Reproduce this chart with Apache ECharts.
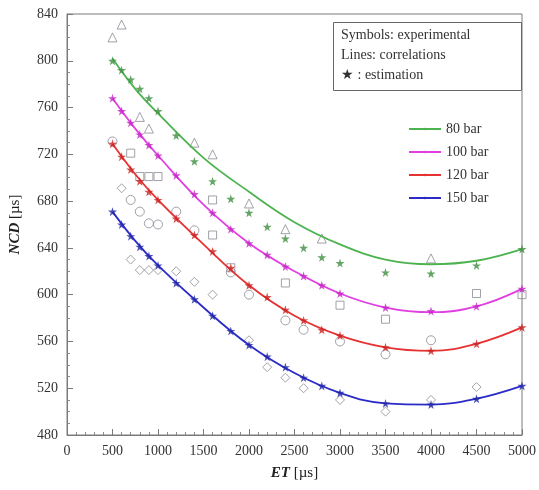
<!DOCTYPE html>
<html>
<head>
<meta charset="utf-8">
<script src="https://cdn.jsdelivr.net/npm/echarts@6/dist/echarts.min.js"></script>
<style>html,body{margin:0;padding:0;background:#fff;}#c{width:539px;height:490px;}</style>
</head>
<body>
<div id="c"></div>
<script>
// ---- data ----
var pressures = ['80 bar', '100 bar', '120 bar', '150 bar'];
var etLine = [500, 750, 1000, 1500, 2000, 2500, 3000, 3500, 4000, 4500, 5000];
var line80  = [802, 776, 755, 717, 688, 662, 643, 630, 626, 629, 639];
var line100 = [768, 742, 719, 677, 644, 620, 601, 589, 585, 590, 605];
var line120 = [729, 703, 681, 643, 608, 582, 565, 555, 552, 558, 572];
var line150 = [671, 646, 625, 589, 557, 533, 516, 507, 506, 511, 522];

var etEst = [500, 600, 700, 800, 900, 1000, 1200, 1400, 1600, 1800, 2000, 2200, 2400, 2600, 2800, 3000, 3500, 4000, 4500, 5000];
var est80  = [800, 792, 784, 776, 768, 757, 736, 714, 697, 682, 670, 658, 648, 640, 632, 627, 619, 618, 625, 639];
var est100 = [768, 757, 747, 737, 728, 719, 702, 686, 670, 656, 644, 634, 624, 616, 608, 601, 589, 586, 590, 605];
var est120 = [729, 718, 707, 697, 688, 681, 665, 651, 637, 623, 608, 598, 587, 578, 570, 565, 555, 552, 558, 572];
var est150 = [671, 660, 650, 641, 633, 625, 610, 596, 582, 569, 557, 547, 538, 529, 522, 516, 507, 506, 511, 522];

var exp80  = [[500,820],[600,831],[800,752],[900,742],[1400,730],[1600,720],[2000,678],[2400,656],[2800,648],[4000,631]];
var exp100 = [[700,721],[800,701],[900,701],[1000,701],[1600,681],[1600,651],[1800,623],[2400,610],[3000,591],[3500,579],[4500,601],[5000,600]];
var exp120 = [[500,731],[700,681],[800,671],[900,661],[1000,660],[1200,671],[1400,655],[1800,619],[2000,600],[2400,578],[2600,570],[3000,560],[3500,549],[4000,561]];
var exp150 = [[600,691],[700,630],[800,621],[900,621],[1000,621],[1200,620],[1400,611],[1600,600],[2000,561],[2200,538],[2400,529],[2600,520],[3000,510],[3500,500],[4000,510],[4500,521]];

var xTicks = [0, 500, 1000, 1500, 2000, 2500, 3000, 3500, 4000, 4500, 5000];
var yTicks = [480, 520, 560, 600, 640, 680, 720, 760, 800, 840];

// ---- styling ----
var lineColors = ['#4db34f', '#e23fe2', '#e63232', '#2b2bc8'];
var estColors  = ['#3d8f3f', '#c424c4', '#cc2020', '#1f24a8'];
var expShapes  = ['triangle', 'rect', 'circle', 'diamond'];
var expColor   = '#8a8a94';
var starPath = 'path://M50,0 L61,35 L98,35 L68,57 L79,91 L50,70 L21,91 L32,57 L2,35 L39,35 Z';
var serif = '"Liberation Serif", "DejaVu Serif", serif';

function zip(xs, ys) { return xs.map(function (x, i) { return [x, ys[i]]; }); }
var lines = [line80, line100, line120, line150];
var ests = [est80, est100, est120, est150];
var exps = [exp80, exp100, exp120, exp150];

var series = [];
for (var i = 0; i < 4; i++) {
  series.push({
    name: pressures[i], type: 'line', smooth: 0.4, symbol: 'none', z: 3,
    data: zip(etLine, lines[i]),
    lineStyle: { color: lineColors[i], width: 1.8 }, itemStyle: { color: lineColors[i] }
  });
}
for (var i = 0; i < 4; i++) {
  series.push({
    name: 'est' + i, type: 'scatter', symbol: starPath, symbolSize: 9, z: 4,
    data: zip(etEst, ests[i]),
    itemStyle: { color: estColors[i] }
  });
}
for (var i = 0; i < 4; i++) {
  series.push({
    name: 'exp' + i, type: 'scatter', symbol: expShapes[i],
    symbolSize: expShapes[i] === 'rect' ? 8 : 9, z: 2,
    data: exps[i],
    itemStyle: { color: 'rgba(255,255,255,0)', borderColor: expColor, borderWidth: 1 }
  });
}

var chart = echarts.init(document.getElementById('c'), null, { renderer: 'canvas' });
chart.setOption({
  animation: false,
  backgroundColor: '#fff',
  grid: { left: 67, right: 16, top: 14, bottom: 55, show: true, borderColor: '#7a7a7a', borderWidth: 1 },
  xAxis: {
    type: 'value', min: xTicks[0], max: xTicks[xTicks.length - 1], interval: 500,
    name: '{b|ET} [µs]', nameLocation: 'middle', nameGap: 31,
    nameTextStyle: { fontFamily: serif, fontSize: 15, color: '#222', rich: { b: { fontFamily: serif, fontSize: 15, fontWeight: 'bold', fontStyle: 'italic', color: '#222' } } },
    axisLine: { show: true, lineStyle: { color: '#7a7a7a' } },
    axisTick: { inside: true, length: 6, lineStyle: { color: '#7a7a7a' } },
    minorTick: { show: true, splitNumber: 5, length: 3, lineStyle: { color: '#8a8a8a' } },
    splitLine: { show: false },
    axisLabel: { fontFamily: serif, fontSize: 14, color: '#333', margin: 9, formatter: function (v) { return String(v); } }
  },
  yAxis: {
    type: 'value', min: yTicks[0], max: yTicks[yTicks.length - 1], interval: 40,
    name: '{b|NCD} [µs]', nameLocation: 'middle', nameGap: 44, nameRotate: 90,
    nameTextStyle: { fontFamily: serif, fontSize: 15, color: '#222', rich: { b: { fontFamily: serif, fontSize: 15, fontWeight: 'bold', fontStyle: 'italic', color: '#222' } } },
    axisLine: { show: true, lineStyle: { color: '#7a7a7a' } },
    axisTick: { inside: true, length: 6, lineStyle: { color: '#7a7a7a' } },
    minorTick: { show: true, splitNumber: 4, length: 3, lineStyle: { color: '#8a8a8a' } },
    splitLine: { show: false },
    axisLabel: { fontFamily: serif, fontSize: 14, color: '#333', margin: 9, formatter: function (v) { return String(v); } }
  },
  legend: {
    data: pressures, orient: 'vertical', left: 403, top: 117,
    itemWidth: 32, itemHeight: 3, itemGap: 9,
    textStyle: { fontFamily: serif, fontSize: 14, color: '#333' }
  },
  graphic: [
    { type: 'rect', left: 333, top: 22, shape: { width: 188, height: 68 }, style: { fill: '#fff', stroke: '#666', lineWidth: 1 }, z: 10 },
    { type: 'text', left: 341, top: 28, z: 11, style: { text: 'Symbols: experimental', font: '14px ' + serif, fill: '#333' } },
    { type: 'text', left: 341, top: 48, z: 11, style: { text: 'Lines: correlations', font: '14px ' + serif, fill: '#333' } },
    { type: 'text', left: 341, top: 68, z: 11, style: { text: '★ : estimation', font: '14px ' + serif, fill: '#333' } }
  ],
  series: series
});
</script>
</body>
</html>
